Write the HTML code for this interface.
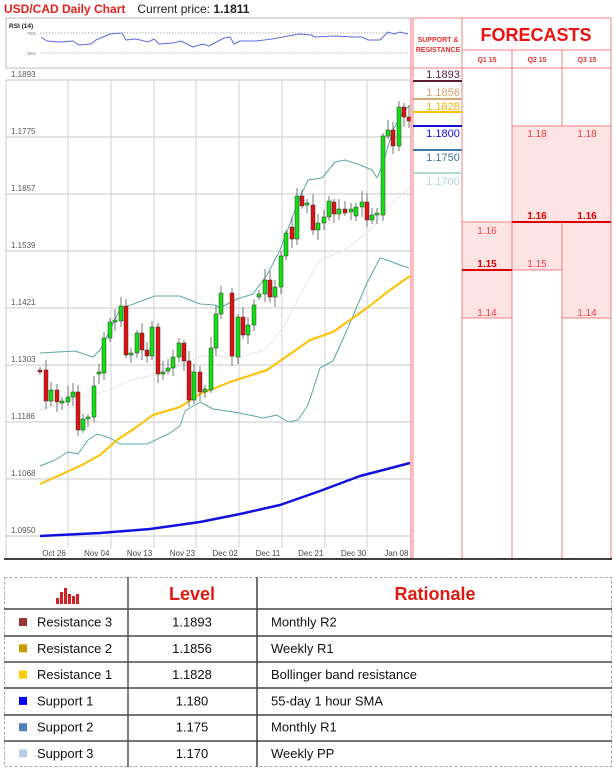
<!DOCTYPE html>
<html><head><meta charset="utf-8"><style>
body{margin:0;width:614px;height:768px;background:#fff;font-family:"Liberation Sans",sans-serif;position:relative;overflow:hidden}
.a{position:absolute}
</style></head><body>
<div class="a" style="left:4px;top:2px;font-size:12px;white-space:nowrap"><b style="color:#e8201c">USD/CAD Daily Chart</b><span style="margin-left:12px;color:#222">Current price: <b>1.1811</b></span></div>
<svg class="a" style="left:0;top:0" width="614" height="768" id="s" font-family="Liberation Sans, sans-serif"></svg>
<script>
var S=document.getElementById('s'),h='';
function L(x1,y1,x2,y2,c,w,e){h+='<line x1="'+x1+'" y1="'+y1+'" x2="'+x2+'" y2="'+y2+'" stroke="'+c+'" stroke-width="'+(w||1)+'" '+(e||'')+'/>';}
function R(x,y,w,hh,f,st,e){h+='<rect x="'+x+'" y="'+y+'" width="'+w+'" height="'+hh+'" fill="'+f+'" stroke="'+(st||'none')+'" '+(e||'')+'/>';}
function T(x,y,t,s,c,e){h+='<text x="'+x+'" y="'+y+'" font-size="'+s+'" fill="'+c+'" '+(e||'')+'>'+t+'</text>';}
function P(pts,c,w){h+='<polyline fill="none" stroke="'+c+'" stroke-width="'+w+'" stroke-linejoin="round" points="'+pts.map(p=>p.join(',')).join(' ')+'"/>';}
R(6,18,405,50,'#fff','#bbb');
T(9,28,'RSI (14)',6.5,'#222','font-weight="bold"');
L(40,33,408,33,'#999',0.8,'stroke-dasharray="1.5,1.5"');L(40,53,408,53,'#999',0.8,'stroke-dasharray="1.5,1.5"');
T(27,35,'70%',4.5,'#777');T(27,55,'30%',4.5,'#777');
P([[41,37],[47,41],[59,42],[73,41],[79,45],[91,44],[96,40],[110,34],[122,33],[126,40],[136,39],[148,42],[154,39],[159,44],[173,43],[181,41],[193,47],[203,44],[209,46],[224,38],[230,37],[234,44],[240,41],[256,41],[272,39],[283,37],[299,34],[311,35],[315,37],[335,36],[354,37],[362,37],[368,40],[380,40],[388,32],[394,34],[400,32],[408,34]],'#5a6fe0',1);
R(6,80,405,479,'#fff','#ccc');
var labs=['1.1893','1.1775','1.1657','1.1539','1.1421','1.1303','1.1186','1.1068','1.0950'];
for(var k=0;k<9;k++){var y=80+57*k;L(6,y,411,y,'#c8c8c8',1);T(11,y-3,labs[k],8,'#555');}
[68,111,154,196,239,282,325,367].forEach(x=>L(x,80,x,548,'#d0d0d0',1));
var dl=['Oct 26','Nov 04','Nov 13','Nov 23','Dec 02','Dec 11','Dec 21','Dec 30','Jan 08'];
dl.forEach((d,i)=>T(54+i*42.8,556,d,8,'#444','text-anchor="middle"'));
P([[40,410],[70,400],[110,390],[130,380],[160,374],[200,356],[240,357],[265,350],[285,325],[300,295],[320,260],[345,250],[370,230],[390,205],[410,187]],'#e6e6e6',1);
P([[40,353],[75,351],[93,357],[100,350],[110,330],[120,309],[155,296],[180,296],[200,304],[215,305],[220,308],[237,299],[253,294],[267,275],[280,250],[300,197],[308,180],[322,178],[335,162],[345,160],[360,165],[372,170],[377,178],[383,163],[393,130],[403,112],[410,105]],'#5aa8a8',1);
P([[40,466],[55,460],[68,452],[78,454],[88,440],[97,434],[110,438],[120,444],[147,444],[170,433],[180,426],[185,411],[200,402],[213,409],[240,413],[263,418],[277,415],[288,422],[298,420],[308,405],[320,368],[333,361],[347,330],[367,283],[380,258],[387,260],[400,265],[409,268]],'#5aa8a8',1);
P([[40,484],[60,475],[82,465],[100,455],[117,440],[135,428],[153,415],[180,407],[200,394],[230,382],[267,370],[293,352],[310,340],[333,332],[367,308],[390,290],[410,276]],'#ffc000',2);
P([[40,536],[100,533],[150,529],[200,522],[240,514],[280,505],[320,491],[360,476],[410,463]],'#1010e0',2.5);
var C=[[40,370,372],[46,370,401],[51,401,390],[57,390,402],[62,403,401],[68,402,397],[73,397,392],[78,392,430],[83,430,419],[88,419,417],[94,417,386],[99,374,372],[104,373,338],[110,338,322],[115,322,320],[121,321,306],[126,306,355],[131,355,353],[137,353,333],[142,333,350],[147,350,356],[152,356,327],[158,327,374],[163,374,372],[168,371,368],[173,368,357],[179,357,343],[184,343,361],[189,361,400],[194,400,372],[200,372,392],[205,392,389],[211,390,348],[216,348,314],[221,314,293],[232,293,356],[238,357,317],[243,317,335],[248,335,325],[254,325,305],[259,297,294],[265,294,280],[270,280,297],[275,297,287],[281,287,256],[286,256,233],[292,227,239],[297,239,196],[302,196,206],[307,205,203],[313,205,230],[318,230,223],[324,223,217],[329,217,201],[334,202,214],[339,214,209],[345,209,213],[351,212,209],[356,216,207],[362,207,202],[367,202,220],[372,220,215],[377,215,213],[383,215,136],[388,136,130],[393,130,146],[399,146,107],[404,107,117],[409,117,121]];
C.forEach((c,i)=>{var t=Math.min(c[1],c[2]),b=Math.max(c[1],c[2]);var e1=3+((i*7)%9),e2=3+((i*5)%8);
L(c[0],t-e1,c[0],b+e2,'#555',0.8);R(c[0]-2,t,4,Math.max(b-t,1.5),c[2]<c[1]?'#10e010':'#e01010','#333','stroke-width="0.5"');});
L(411,18,411,559,'#f07070',1);
R(413,18,198,541,'#fff','#f08080');
[462,512,562].forEach(x=>L(x,50,x,559,'#f08080',1));L(462,18,462,50,'#f08080',1);
L(462,50,611,50,'#f08080',1);L(413,68,611,68,'#f08080',1);
T(438,42,'SUPPORT &amp;',7,'#e83030','text-anchor="middle" font-weight="bold"');T(438,52,'RESISTANCE',7,'#e83030','text-anchor="middle" font-weight="bold"');
T(536,41,'FORECASTS',18,'#f01010','text-anchor="middle" font-weight="bold"');
T(487,62,'Q1 15',7,'#e83030','text-anchor="middle" font-weight="bold"');T(537,62,'Q2 15',7,'#e83030','text-anchor="middle" font-weight="bold"');T(587,62,'Q3 15',7,'#e83030','text-anchor="middle" font-weight="bold"');
[['1.1893',78,81,'#5a1a3a'],['1.1856',96,99,'#d8a878'],['1.1828',110,112,'#ffc000'],['1.1800',137,126,'#1010e0'],['1.1750',161,150,'#3a7aa8'],['1.1700',185,173,'#b0d8d8']].forEach(s=>{T(443,s[1],s[0],11,s[3]=='#ffc000'?'#f0b800':(s[3]=='#d8a878'?'#d8a070':s[3]),'text-anchor="middle"');L(413,s[2],462,s[2],s[3],2);});
R(512,126,99,96,'#fde3e3','#f08080');R(462,222,50,96,'#fde3e3','#f08080');R(512,222,50,48,'#fde3e3','#f08080');R(562,222,49,96,'#fde3e3','#f08080');
L(512,222,611,222,'#e00000',2);L(462,270,512,270,'#e00000',2);
var fc='#f04040';
T(537,137,'1.18',10,fc,'text-anchor="middle"');T(587,137,'1.18',10,fc,'text-anchor="middle"');
T(537,219,'1.16',10,'#e00000','text-anchor="middle" font-weight="bold"');T(587,219,'1.16',10,'#e00000','text-anchor="middle" font-weight="bold"');
T(487,234,'1.16',10,fc,'text-anchor="middle"');T(487,267,'1.15',10,'#e00000','text-anchor="middle" font-weight="bold"');T(537,267,'1.15',10,fc,'text-anchor="middle"');
T(487,316,'1.14',10,fc,'text-anchor="middle"');T(587,316,'1.14',10,fc,'text-anchor="middle"');
L(4,559,612,559,'#000',1.5);
R(4.5,577.5,607,189,'#fff','#aaa','stroke-dasharray="3,2"');
[609,636,662,688,715,741].forEach((y,i)=>L(4,y,612,y,i%3==2?'#777':'#222',i%3==2?2:1.2));
L(128,577,128,767,'#555',1.5);L(257,577,257,767,'#444',1.5);
[[56,598],[60,592],[64,588],[68,594],[72,596],[76,594]].forEach(b=>R(b[0],b[1],3,604-b[1],'#d42020'));
T(192,600,'Level',18,'#e01a10','text-anchor="middle" font-weight="bold"');T(435,600,'Rationale',18,'#e01a10','text-anchor="middle" font-weight="bold"');
var rows=[['#953735','Resistance 3','1.1893','Monthly R2'],['#cc9900','Resistance 2','1.1856','Weekly R1'],['#ffcc00','Resistance 1','1.1828','Bollinger band resistance'],['#0000ff','Support 1','1.180','55-day 1 hour SMA'],['#4f81bd','Support 2','1.175','Monthly R1'],['#b9cde5','Support 3','1.170','Weekly PP']];
rows.forEach((r,i)=>{var y=622+26.3*i;R(19,y-4,8,8,r[0]);T(37,y+4.5,r[1],13,'#111');T(192,y+4.5,r[2],13,'#111','text-anchor="middle"');T(271,y+4.5,r[3],13,'#111');});
S.innerHTML=h;
</script>
</body></html>
